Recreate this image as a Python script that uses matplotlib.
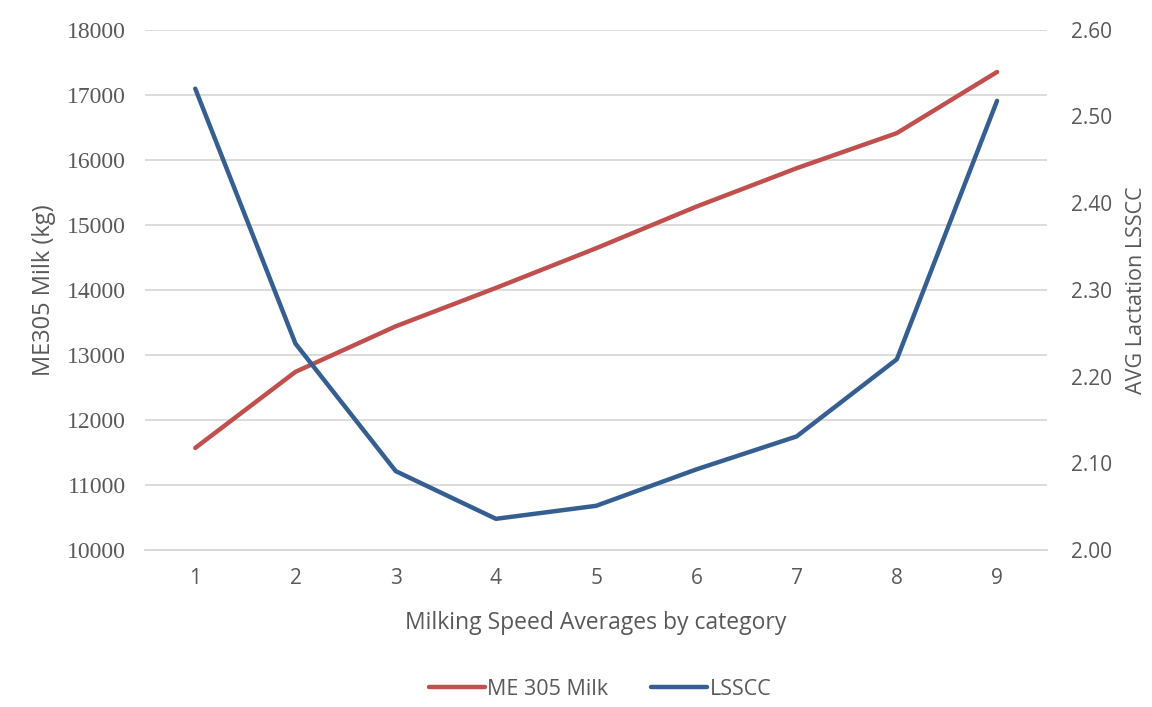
"""
plot.py

Dual-axis line chart: ME 305 milk and LSSCC by milking speed category.
"""

import matplotlib.pyplot as plt

# data
categories = [1, 2, 3, 4, 5, 6, 7, 8, 9]
me305_milk = [11570, 12740, 13440, 14030, 14640, 15280, 15870, 16410, 17350]
lsscc = [2.532, 2.238, 2.091, 2.036, 2.051, 2.093, 2.131, 2.220, 2.518]

left_ticks = [10000, 11000, 12000, 13000, 14000, 15000, 16000, 17000, 18000]
right_ticks = [2.00, 2.10, 2.20, 2.30, 2.40, 2.50, 2.60]

RED = "#C0504D"
BLUE = "#355F91"
GRID = "#D9D9D9"
TEXT = "#595959"
SANS = "Open Sans"
SERIF = "Liberation Serif"

fig = plt.figure(figsize=(11.52, 7.07), dpi=100)
ax = fig.add_axes([0.126, 0.222, 0.783, 0.736])
ax2 = ax.twinx()

l1, = ax.plot(categories, me305_milk, color=RED, lw=3.2,
              solid_capstyle="round", solid_joinstyle="round", label="ME 305 Milk")
l2, = ax2.plot(categories, lsscc, color=BLUE, lw=3.2,
               solid_capstyle="round", solid_joinstyle="round", label="LSSCC")

ax.set_xlim(0.5, 9.5)
ax.set_ylim(10000, 18000)
ax2.set_ylim(2.0, 2.6)
ax.set_xticks(categories)
ax.set_yticks(left_ticks)
ax2.set_yticks(right_ticks)
ax2.set_yticklabels([f"{v:.2f}" for v in right_ticks])

ax.grid(axis="y", color=GRID, lw=1.3)
ax.set_axisbelow(True)
for a in (ax, ax2):
    for side in ("top", "left", "right"):
        a.spines[side].set_visible(False)
    a.spines["bottom"].set_color(GRID)
    a.spines["bottom"].set_linewidth(1.3)
    a.tick_params(length=0, colors=TEXT)

for t in ax.get_yticklabels():
    t.set_fontfamily(SERIF)
    t.set_fontsize(17)
ax.tick_params(axis="y", pad=14)
for t in ax.get_xticklabels():
    t.set_fontfamily(SANS)
    t.set_fontsize(15)
ax.tick_params(axis="x", pad=13)
for t in ax2.get_yticklabels():
    t.set_fontfamily(SANS)
    t.set_fontsize(15)
ax2.tick_params(axis="y", pad=17)

ax.set_xlabel("Milking Speed Averages by category", fontfamily=SANS,
              fontsize=16.5, color=TEXT, labelpad=16)
ax.set_ylabel("ME305 Milk (kg)", fontfamily=SANS, fontsize=17, color=TEXT, labelpad=8)
ax2.set_ylabel("AVG Lactation LSSCC", fontfamily=SANS, fontsize=15.5, color=TEXT,
               labelpad=10)

leg = fig.legend(handles=[l1, l2], loc="center", bbox_to_anchor=(0.521, 0.025),
                 ncol=2, frameon=False, prop={"family": SANS, "size": 15.5},
                 handlelength=2.6, handletextpad=0.1, columnspacing=2.0)
for t in leg.get_texts():
    t.set_color(TEXT)

fig.savefig("out.png", dpi=100)
